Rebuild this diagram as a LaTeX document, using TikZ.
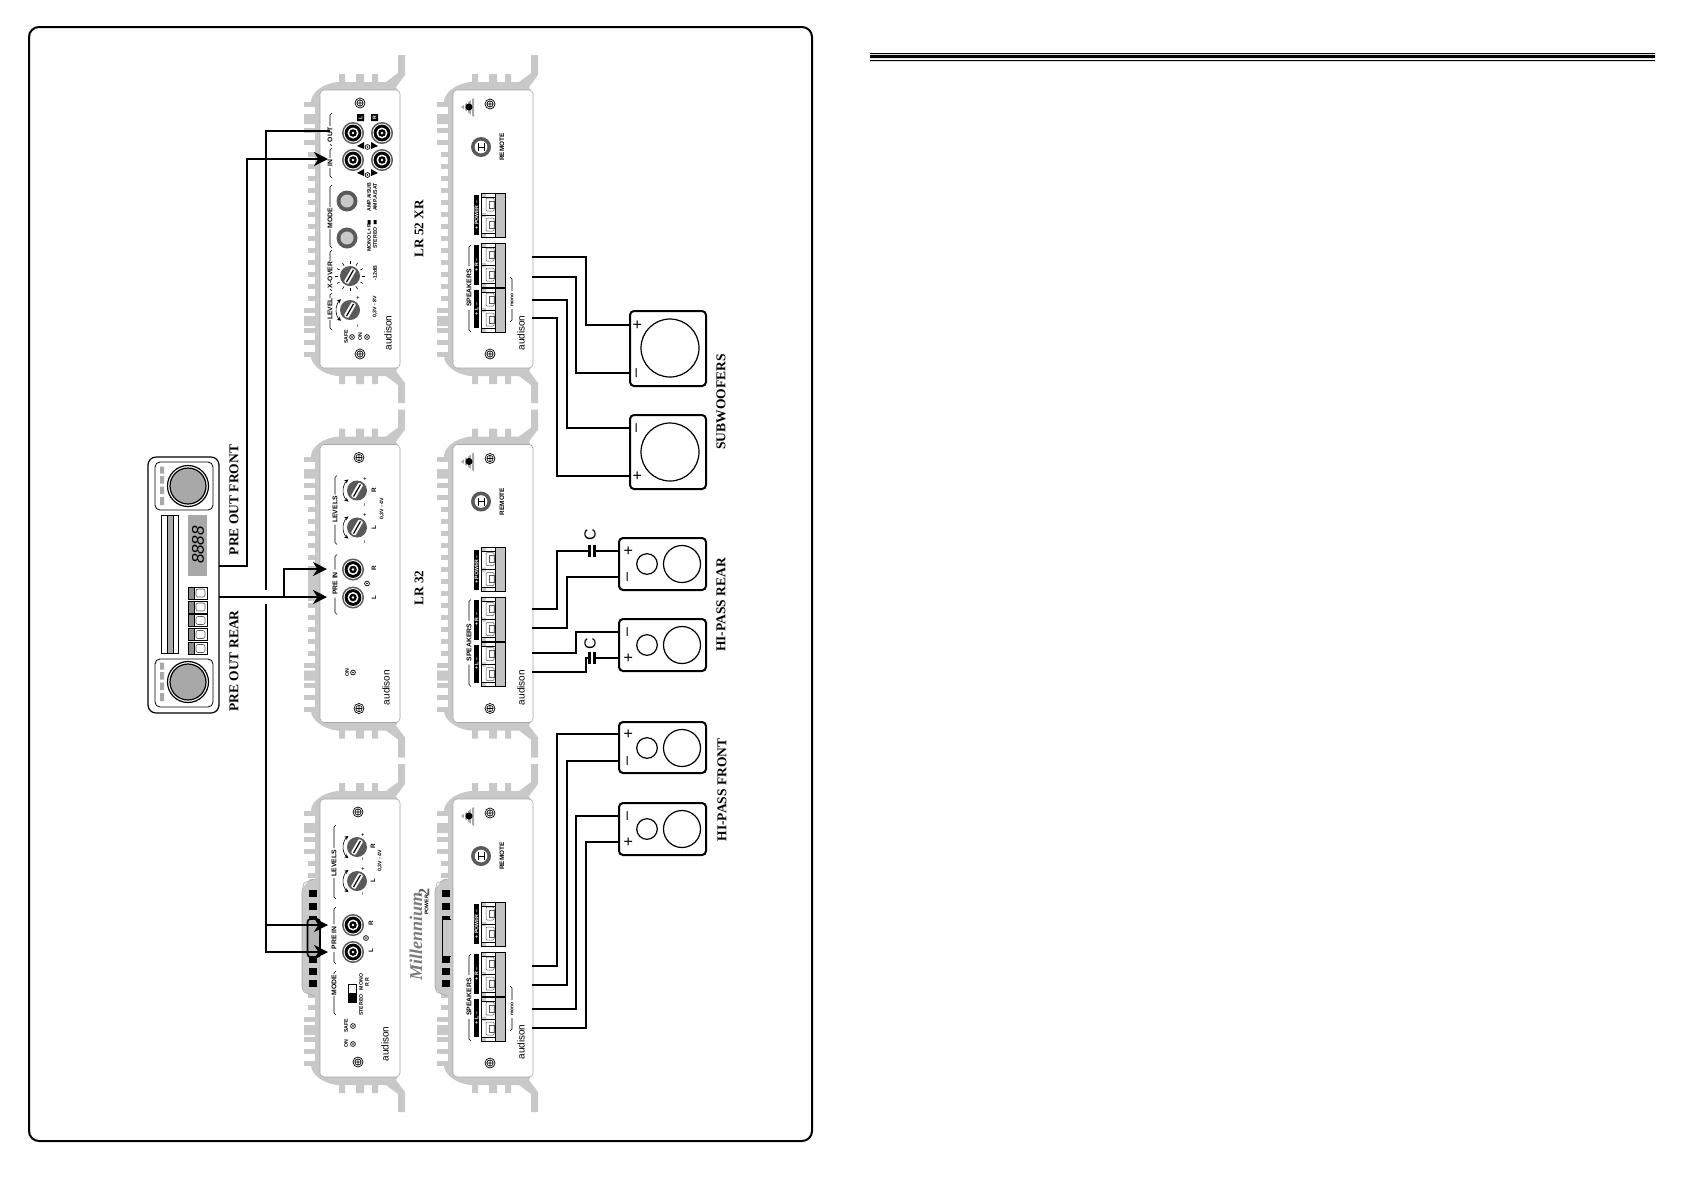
\documentclass[tikz,border=0pt]{standalone}
\usepackage{fontspec}
\setmainfont{Liberation Serif}
\setsansfont{Liberation Sans}
\usetikzlibrary{arrows.meta}
\definecolor{chg}{HTML}{C8C8C8}
\definecolor{dkg}{HTML}{5A5A5A}
\definecolor{midg}{HTML}{A8A8A8}
\newcounter{nn}
\tikzset{
  x=.5pt,y=-.5pt,
  auto name/.code={\stepcounter{nn}\tikzset{name=n\arabic{nn}}},
  wire/.style={line width=.65pt,black},
  arrowwire/.style={line width=.7pt,black,-{Stealth[length=7pt,width=7pt,inset=2.2pt]}},
  bigtxt/.style={font=\fontsize{6.75}{7}\selectfont\bfseries,rotate=90,inner sep=0pt},
  modtxt/.style={font=\fontsize{6.6}{7}\selectfont\bfseries,rotate=90,inner sep=0pt},
  tl/.style={auto name,font=\fontsize{2.6}{2.6}\selectfont\sffamily\bfseries,rotate=90,inner sep=0pt},
  tm/.style={auto name,font=\fontsize{3.2}{3.2}\selectfont\sffamily\bfseries,rotate=90,inner sep=0pt},
  tb/.style={auto name,font=\fontsize{3.4}{3.4}\selectfont\sffamily\bfseries,rotate=90,inner sep=0pt},
  brand/.style={auto name,font=\fontsize{5}{5}\selectfont\sffamily,rotate=90,inner sep=0pt},
  signt/.style={auto name,font=\fontsize{8}{8}\selectfont\sffamily,rotate=90,inner sep=0pt},
  spk/.style={draw,line width=1pt,rounded corners=2pt,fill=white,inner sep=0pt},
  capn/.style={fill=white,inner sep=0pt,minimum width=2pt,minimum height=6pt},
  capbar/.style={line width=1.3pt,black},
  brk/.style={line width=.3pt,black},
}
% screw
\newcommand\scw[2]{\draw[line width=.35pt,black,fill=white] (#1,#2) circle[radius=5];
  \draw[line width=.3pt] (#1,#2) circle[radius=3.2] (#1-3.2,#2)--(#1+3.2,#2) (#1,#2-3.2)--(#1,#2+3.2);}
% rca socket
\newcommand\rca[2]{\fill[dkg] (#1,#2) circle[radius=11];
  \fill[white] (#1,#2) circle[radius=9.4];\fill[black] (#1,#2) circle[radius=8.4];
  \fill[white] (#1,#2) circle[radius=5.5];\fill[black] (#1,#2) circle[radius=3.8];
  \fill[white] (#1,#2) circle[radius=1.4];}
% knob
\newcommand\knb[3]{\fill[dkg] (#1,#2) circle[radius=10];
  \begin{scope}[shift={(#1,#2)},rotate=#3]
  \fill[white,rounded corners=.5pt] (-8,-2.6) rectangle (8,2.6);\draw[line width=.6pt] (-7,0)--(7,0);
  \end{scope}}
% curved arrows around a level knob
\newcommand\crv[2]{\draw[line width=.3pt,{Stealth[length=2pt,width=2pt]}-{Stealth[length=2pt,width=2pt]}]
   (#1,#2) ++(128:14) arc[start angle=128,end angle=232,radius=14];}
% bracket: u,v1,v2,vc,halfgap,text,hookdir
\newcommand\bkt[7]{\draw[brk] (#1+#7,#2)--(#1,#2+2)--(#1,#4-#5) (#1,#4+#5)--(#1,#3-2)--(#1+#7,#3);
  \node[tb] at (#1,#4) {#6};}
\newcommand\led[2]{\draw[line width=.35pt,fill=white] (#1,#2) circle[radius=2.4];\fill (#1,#2) circle[radius=.8];}
% terminal block: v start
\newcommand\tblock[1]{\begin{scope}[shift={(0,#1)}]
  \fill[midg!70] (42,0) rectangle (52,44);
  \fill[chg] (28,0) rectangle (33,4) (28,20) rectangle (33,24) (28,40) rectangle (33,44);
  \draw[line width=.45pt,black] (28,0) rectangle (52,44);
  \draw[line width=.3pt] (28,4)--(42,4) (28,22)--(42,22) (28,40)--(42,40) (42,0)--(42,44);
  \foreach \q in {5,25}{\draw[line width=.25pt,dkg,rounded corners=.5pt] (33,\q)rectangle(41,\q+13);
    \draw[line width=.2pt,dkg] (36,\q+3)rectangle(41,\q+10);}
  \end{scope}}
\newcommand\tagb[4]{\fill[black] (21,#1) rectangle (26,#2);
  \node[tl,text=white] at (23.5,#1*.5+#2*.5) {#3\,\,#4};}
% chassis
\newcommand\chs[1]{%
  \fill[chg] (-9,12) .. controls (-9,3) and (2,-6) .. (17,-8) -- (19,-8) -- (19,-16) -- (25,-16) -- (25,-8)
   -- (36,-8) -- (36,-16) -- (44,-16) -- (44,-8) -- (52,-8) -- (52,-16) -- (58,-16) -- (58,-8) -- (66,-8)
   -- (78,-17) -- (78,-35) -- (85,-35) -- (85,-15) -- (76,-3) -- (80,5) -- (80,273) -- (76,281) -- (85,293)
   -- (85,313) -- (78,313) -- (78,295) -- (66,286) -- (58,286) -- (58,294) -- (52,294) -- (52,286)
   -- (44,286) -- (44,294) -- (36,294) -- (36,286) -- (25,286) -- (25,294) -- (19,294) -- (19,286) -- (17,286)
   .. controls (2,284) and (-9,275) .. (-9,266) -- (-5,262) -- (-5,16) -- cycle;
  \foreach \q in {12,24,38,50,62,74,86,98,110,122,134,146,158,170,182,194,206,218,238,250,262}{
    \ifnum\q<60 \fill[chg] (-16,\q) rectangle (-5,\q+5);
    \else\ifnum\q>215 \fill[chg] (-16,\q) rectangle (-5,\q+5);
    \else \fill[chg] (-12,\q) rectangle (-5,\q+5);\fi\fi}
  \fill[chg] (-16,27) rectangle (-5,34) (-16,226) rectangle (-5,236);
  #1
  \draw[line width=.3pt,midg,fill=white,rounded corners=2pt] (0,0) rectangle (80,278);}
\newcommand\pwfins{%
  \fill[chg] (-10,80) -- (-18,90) -- (-18,190) -- (-10,197) -- (0,197) -- (0,80) -- cycle;
  \draw[line width=.3pt,midg] (-6,80) -- (-16,84) -- (-18,92) -- (-18,188) -- (-16,193) -- (-6,197);
  \foreach \q in {91,104,117,157,169,181}{\fill[black] (-11,\q) rectangle (-3,\q+7);}}
% back panel
\newcommand\bck[3]{\begin{scope}[shift={(453,#1)}]
  \chs{#3}
  \fill[midg] (8,17)--(21,8)--(21,27)--cycle;
  \foreach \q in {11,14.5,18}{\draw[white,line width=.2pt] (\q,5)--(\q,29);}
  \fill (16,17) circle[radius=3.5];
  \scw{37}{14}\scw{37}{264}
  \fill[dkg] (28,57) circle[radius=10]; \fill[white] (28,57) circle[radius=6.3];
  \draw[line width=.4pt] (25,53)--(25,61) (31,53)--(31,61) (25,57)--(31,57);
  \node[tm] at (49,57) {REMOTE};
  \tblock{103}\tblock{153}\tblock{198}
  \tagb{105}{145}{+ POWER}{–}
  \tagb{155}{195}{+ R}{–}\tagb{200}{238}{+ L}{–}
  \bkt{16}{155}{242}{198}{22}{SPEAKERS}{2}
  #2
  \node[brand] at (68,243) {audison};
  \end{scope}}
\newcommand\monob{\bkt{59}{187}{232}{210}{9}{\fontsize{2.4}{2.4}\selectfont mono}{-2}}

\begin{document}
\begin{tikzpicture}
\useasboundingbox (0,0) rectangle (1684,1190);
\fill[white] (0,0) rectangle (1684,1190);
% frame and rule
\node[draw,line width=1pt,rounded corners=5pt,inner sep=0pt,minimum width=391.5pt,minimum height=557pt] (frame) at (420.5,584) {};
\fill (870,53) rectangle (1655,54) (870,55) rectangle (1655,58) (870,60) rectangle (1655,61);

% ---------- row 1 input: LR 52 XR
\begin{scope}[shift={(320,90)}]
  \chs{}
  \scw{40}{13}\scw{40}{264}
  \rca{33}{43}\rca{62}{43}\rca{33}{70}\rca{62}{70}
  \fill (37,24) rectangle (44,31) (51,24) rectangle (58,31);
  \node[tl,text=white] at (40.5,27.5) {L};\node[tl,text=white] at (54.5,27.5) {R};
  \fill (37,56) -- (44,52) -- (44,59) -- cycle (51,52) -- (58,56) -- (51,59) -- cycle;
  \fill (37,83) -- (44,79) -- (44,86) -- cycle (51,79) -- (58,83) -- (51,86) -- cycle;
  \led{47.5}{57}\led{47.5}{85}
  \bkt{10}{23}{56}{45}{9}{OUT}{2}
  \bkt{10}{58}{88}{73}{5}{IN}{2}
  \bkt{10}{95}{158}{128}{11}{MODE}{2}
  \bkt{10}{160}{201}{185}{14}{X-OVER}{2}
  \bkt{10}{203}{240}{219}{11}{LEVEL}{2}
  \foreach \a in {0,30,...,330}{\draw[line width=.3pt] (30,186) ++(\a:12) -- ++(\a:3);}
  \foreach \q in {111,148}{\fill[dkg] (27,\q) circle[radius=10.5];\fill[chg] (27,\q) circle[radius=6.5];}
  \knb{30}{186}{60}\knb{30}{220}{60}
  \draw[line width=.3pt,{Stealth[length=2pt,width=2pt]}-{Stealth[length=2pt,width=2pt]}] (30,220) ++(130:14) arc[start angle=130,end angle=230,radius=14];
  \node[tl] at (49,107) {AMP.A/SUB};\node[tl] at (55,107) {AMP.A/SAT};
  \node[tl] at (49,148) {MONO L+R};\node[tl] at (55,148) {STEREO};
  \fill (47.5,130) rectangle (50.5,134) (53.5,130) rectangle (56.5,134);
  \node[tl] at (55,183) {-12dB};\node[tl] at (55,217) {0,3V - 8V};
  \node[tl] at (38,208) {+};\node[tl] at (38,236) {–};
  \node[tl] at (26,247) {SAFE};\led{32}{247}\node[tl] at (40,247) {ON};\led{47}{247}
  \node[brand] at (68,243) {audison};
\end{scope}
\bck{90}{\monob}{}

% ---------- row 2 input: LR 32
\begin{scope}[shift={(320,444.5)}]
  \chs{\fill[chg] (-12,121) rectangle (0,156);}
  \scw{39}{13}\scw{39}{264}
  \rca{33}{125}\rca{33}{153}\led{47}{139}
  \knb{37}{46}{60}\knb{37}{83}{60}\crv{37}{46}\crv{37}{83}
  \bkt{15}{31}{100}{65}{15}{LEVELS}{2}
  \bkt{15}{110}{170}{139}{14}{PRE IN}{2}
  \node[tm] at (54,46) {R};\node[tm] at (54,83) {L};\node[tm] at (54,124) {R};\node[tm] at (54,153) {L};
  \node[tl] at (45,34) {+};\node[tl] at (45,61) {–};\node[tl] at (45,70) {+};\node[tl] at (45,98) {–};
  \node[tl] at (62,64) {0,3V - 4V};
  \node[tl] at (27,228) {ON};\led{33}{228}
  \node[brand] at (66,243) {audison};
\end{scope}
\bck{444.5}{}{}

% ---------- row 3 input
\begin{scope}[shift={(320,799)}]
  \chs{\pwfins}
  \scw{38}{13}\scw{38}{263}
  \rca{33}{126}\rca{33}{153}\led{46}{139}
  \knb{37}{48}{60}\knb{37}{82}{60}\crv{37}{48}\crv{37}{82}
  \bkt{14}{26}{100}{64}{15}{LEVELS}{2}
  \bkt{14}{108}{165}{139}{14}{PRE IN}{2}
  \bkt{14}{172}{216}{186}{11}{MODE}{2}
  \node[tm] at (53,47) {R};\node[tm] at (53,82) {L};\node[tm] at (51,124) {R};\node[tm] at (51,152) {L};
  \node[tl] at (43,36) {+};\node[tl] at (43,60) {–};\node[tl] at (43,70) {+};\node[tl] at (43,95) {–};
  \node[tl] at (60,62) {0,3V - 4V};
  \draw[line width=.3pt] (28,185) rectangle (36,203);\fill (28,194) rectangle (36,203);
  \node[tl] at (41,206) {STEREO};\node[tl] at (41,183) {MONO};\node[tl] at (47,183) {R R};
  \node[tl] at (26,227) {SAFE};\led{33}{227}\node[tl] at (26,245) {ON};\led{33}{245}
  \node[brand] at (65,245) {audison};
\end{scope}
\bck{799}{\monob}{\pwfins\fill[chg] (-12,120) rectangle (-2,157);\draw[line width=.4pt] (-2,120)--(-11,120)--(-11,157)--(-2,157);}

% input centre block of row 3 drawn below wires
\draw[line width=.8pt,rounded corners=1.5pt,fill=chg!90!black] (307.5,919) rectangle (320,957);

% ---------- Head unit
\node[draw,line width=.6pt,rounded corners=4pt,inner sep=0pt,minimum width=35.5pt,minimum height=128pt] (hu) at (183.5,585) {};
\draw[line width=.4pt,rounded corners=2.5pt] (155,462) rectangle (213,510) (155,659) rectangle (213,707);
\foreach \c in {486,682}{
  \fill[midg] (160,\c-19.5) rectangle (164,\c-12.5) (160,\c-10) rectangle (164,\c-2.5) (160,\c+.5) rectangle (164,\c+8) (160,\c+11) rectangle (164,\c+19);
  \draw[line width=.6pt] (188,\c) circle[radius=20.5];
  \draw[line width=.6pt,fill=midg] (188,\c) circle[radius=18];}
\draw[line width=.4pt] (161,515) rectangle (178,653);
\draw[line width=.4pt,fill=midg] (167,515) rectangle (173,653);
\fill[midg] (188,515) rectangle (207,576);
\node[auto name,rotate=90,inner sep=0pt,font=\fontsize{8.5}{9}\selectfont\sffamily\itshape] at (198,545) {8888};
\foreach \b in {587,601,614.5,628.5,642.5}{
  \draw[line width=.4pt] (188,\b) rectangle (207,\b+12);
  \draw[line width=.4pt,fill=dkg!70] (188,\b) rectangle (194,\b+12);
  \draw[line width=.3pt,dkg,rounded corners=1pt] (196,\b+2) rectangle (205,\b+10);}

% ---------- labels
\node[bigtxt] (lfront) at (234,500) {PRE OUT FRONT};
\node[bigtxt] (lrear) at (234,661) {PRE OUT REAR};
\node[modtxt] (l52) at (419,229) {LR 52 XR};
\node[modtxt] (l32) at (419,588) {LR 32};
\node[bigtxt] (lsub) at (721,402) {SUBWOOFERS};
\node[bigtxt] (lrr) at (721,605) {HI-PASS REAR};
\node[bigtxt] (lfr) at (722,790) {HI-PASS FRONT};
\node[auto name,rotate=90,inner sep=0pt,font=\fontsize{9}{9}\selectfont\itshape\bfseries,text=dkg!80] at (416,936) {Millennium};
\node[tl] at (426.5,905) {POWER};
\node[auto name,rotate=90,inner sep=0pt,font=\fontsize{8}{8}\selectfont\bfseries,text=dkg] at (424,892) {2};

% ---------- pre-out wiring
\coordinate (ofront) at (219,566);
\coordinate (orear) at (219,597);
\coordinate (in1) at (328,159);
\coordinate (out1) at (330,131);
\coordinate (in2l) at (327,597);
\coordinate (in2r) at (327,569);
\coordinate (in3l) at (328,952);
\coordinate (in3r) at (328,925);
\coordinate (brgA) at (266,590);
\coordinate (brgB) at (266,604);
\coordinate (tee) at (284,597);
\coordinate (tee3) at (266,925);
\draw[arrowwire] (ofront) -- ++(28,0) |- (in1);
\draw[wire,line width=1pt] (orear) -- (tee);
\draw[arrowwire,line width=1pt] (tee) -- (in2l);
\draw[arrowwire] (tee) |- (in2r);
\draw[wire] (out1) -| (brgA);
\draw[arrowwire] (brgB) |- (in3l);
\draw[arrowwire] (tee3) -- (in3r);

% ---------- speakers
\node[spk,minimum width=38pt,minimum height=37.5pt] (sub1) at (668,348.5) {};
\node[spk,minimum width=38pt,minimum height=37pt] (sub2) at (668,452) {};
\node[spk,minimum width=43.5pt,minimum height=26pt] (rr1) at (662.5,564) {};
\node[spk,minimum width=43.5pt,minimum height=26pt] (rr2) at (662.5,645) {};
\node[spk,minimum width=43.5pt,minimum height=25.5pt] (fr1) at (662.5,747.5) {};
\node[spk,minimum width=43.5pt,minimum height=26pt] (fr2) at (662.5,829) {};
\foreach \y in {348,452}{\draw[line width=.6pt] (670,\y) circle[radius=29];}
\foreach \y in {564,645,748,829}{\draw[line width=.6pt] (647,\y) circle[radius=10.3] (682,\y) circle[radius=18.5];}
\node[signt] at (638,325) {+};\node[signt] at (638,373) {–};
\node[signt] at (638,428) {–};\node[signt] at (638,476) {+};
\node[signt] at (629,551) {+};\node[signt] at (629,577) {–};
\node[signt] at (629,632) {–};\node[signt] at (629,658) {+};
\node[signt] at (629,734) {+};\node[signt] at (629,761) {–};
\node[signt] at (629,816) {–};\node[signt] at (629,842) {+};

% ---------- speaker wiring
\foreach \n/\x/\y in {a1/532/257,a2/532/277,a3/532/300,a4/532/318,
  b1/532/609,b2/532/628,b3/532/653,b4/532/672,
  d1/532/966,d2/532/985,d3/532/1009,d4/532/1028}{\coordinate (\n) at (\x,\y);}
\foreach \n/\x/\y in {pa1/630/325,pa2/630/373,pa3/630/428,pa4/630/476,
  pb2/619/577,pb3/619/632,pb1/619/551,pb4/619/658,
  pd1/619/734,pd2/619/761,pd3/619/816,pd4/619/842}{\coordinate (\n) at (\x,\y);}
\draw[wire] (a1) -- ++(54,0) |- (pa1);
\draw[wire] (a2) -- ++(44,0) |- (pa2);
\draw[wire] (a3) -- ++(35,0) |- (pa3);
\draw[wire] (a4) -- ++(25,0) |- (pa4);
\node[capn] (cap1) at (592,551) {};
\node[capn] (cap2) at (592,658) {};
\draw[wire] (b1) -- ++(25,0) |- (cap1.west);
\draw[wire] (cap1.east) -- (pb1);
\draw[wire] (b2) -- ++(35,0) |- (pb2);
\draw[wire] (b3) -- ++(44,0) |- (pb3);
\draw[wire] (b4) -- ++(54,0) |- (cap2.west);
\draw[wire] (cap2.east) -- (pb4);
\draw[capbar] (cap1.north west) -- (cap1.south west) (cap1.north east) -- (cap1.south east);
\draw[capbar] (cap2.north west) -- (cap2.south west) (cap2.north east) -- (cap2.south east);
\node[auto name,rotate=90,inner sep=0pt,font=\fontsize{8}{8}\selectfont\sffamily] at (590,535) {C};
\node[auto name,rotate=90,inner sep=0pt,font=\fontsize{8}{8}\selectfont\sffamily] at (590,644) {C};
\draw[wire] (d1) -- ++(25,0) |- (pd1);
\draw[wire] (d2) -- ++(35,0) |- (pd2);
\draw[wire] (d3) -- ++(44,0) |- (pd3);
\draw[wire] (d4) -- ++(54,0) |- (pd4);
\end{tikzpicture}
\end{document}
